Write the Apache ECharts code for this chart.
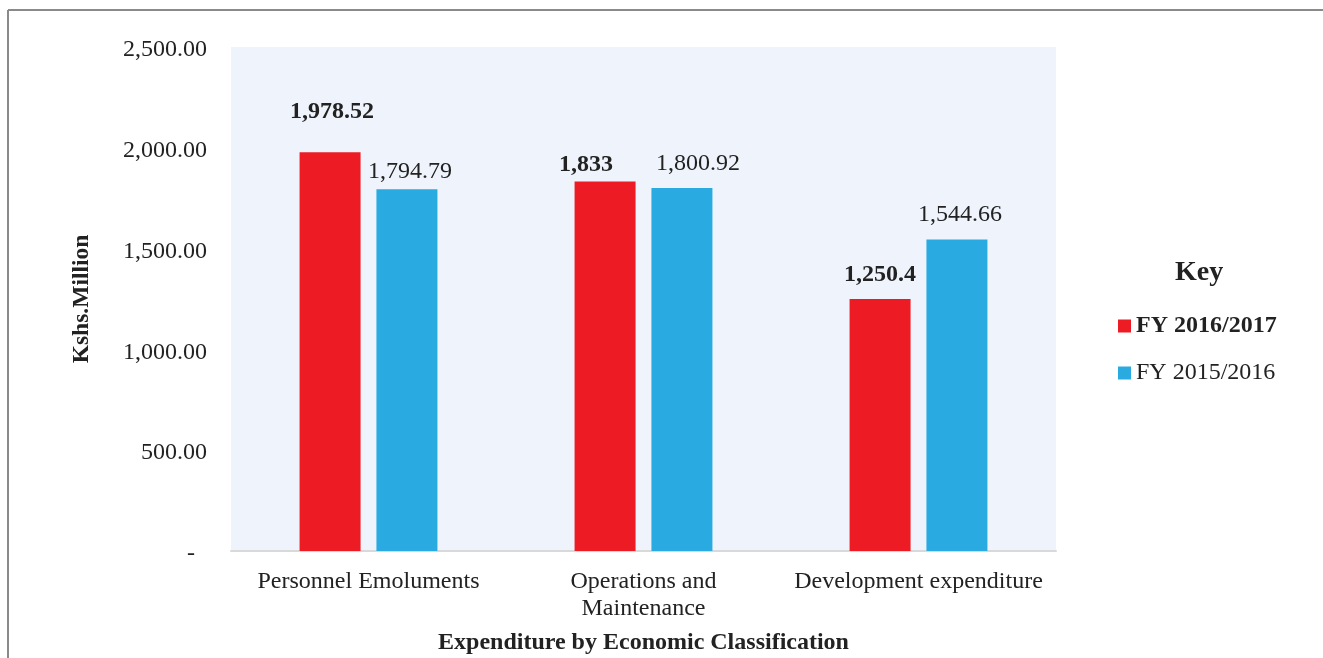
<!DOCTYPE html>
<html>
<head>
<meta charset="utf-8">
<script src="https://cdn.jsdelivr.net/npm/echarts@6/dist/echarts.min.js"></script>
<style>
html,body{margin:0;padding:0;background:#fff;}
#c{width:1323px;height:658px;}
</style>
</head>
<body>
<div id="c"></div>
<script>
const categories = ['Personnel Emoluments', 'Operations and\nMaintenance', 'Development expenditure'];
const seriesNames = ['FY 2016/2017', 'FY 2015/2016'];
const fy2016_2017 = [1978.52, 1833, 1250.4];
const fy2015_2016 = [1794.79, 1800.92, 1544.66];
const labelText2016 = ['1,978.52', '1,833', '1,250.4'];
const labelText2015 = ['1,794.79', '1,800.92', '1,544.66'];
const yTicks = [0, 500, 1000, 1500, 2000, 2500];

const redOffsets = [[2, -23], [-19, 0], [0, -7]];
const blueOffsets = [[3, 0], [16, -7], [3, -8]];

const FONT = '"Liberation Serif", "Times New Roman", serif';
const chart = echarts.init(document.getElementById('c'));

function mk(vals, texts, offs, bold) {
  return vals.map((v, i) => ({
    value: v,
    label: { formatter: texts[i], offset: offs[i], fontWeight: bold ? 'bold' : 'normal' }
  }));
}

chart.setOption({
  backgroundColor: '#ffffff',
  animation: false,
  textStyle: { fontFamily: FONT },
  grid: {
    left: 231, top: 47, width: 825, height: 504,
    outerBoundsMode: 'none', containLabel: false,
    show: true, backgroundColor: '#EFF4FC', borderWidth: 0
  },
  legend: {
    orient: 'vertical',
    left: 1113, top: 309,
    itemWidth: 13, itemHeight: 13, itemGap: 23,
    icon: 'rect',
    textStyle: { fontFamily: FONT, fontSize: 24, color: '#222' },
    data: [
      { name: seriesNames[0], textStyle: { fontWeight: 'bold' } },
      { name: seriesNames[1], textStyle: { fontWeight: 'normal' } }
    ]
  },
  graphic: [
    { type: 'line', shape: { x1: 8, y1: 10, x2: 1323, y2: 10 }, style: { stroke: '#8a8a8a', lineWidth: 2 } },
    { type: 'line', shape: { x1: 8, y1: 10, x2: 8, y2: 658 }, style: { stroke: '#8a8a8a', lineWidth: 2 } },
    { type: 'text', left: 1175, top: 259, style: { text: 'Key', font: 'bold 28px ' + FONT, fill: '#222' } }
  ],
  xAxis: {
    type: 'category',
    data: categories,
    axisLine: { show: true, lineStyle: { color: '#D9D9D9', width: 2 } },
    axisTick: { show: false },
    axisLabel: { fontFamily: FONT, fontSize: 24, color: '#222', margin: 17, lineHeight: 27, interval: 0 },
    name: 'Expenditure by Economic Classification',
    nameLocation: 'middle',
    nameGap: 80,
    nameTextStyle: { fontFamily: FONT, fontSize: 24, fontWeight: 'bold', color: '#222' }
  },
  yAxis: {
    type: 'value',
    min: yTicks[0], max: yTicks[yTicks.length - 1], interval: 500,
    axisLine: { show: false },
    axisTick: { show: false },
    splitLine: { show: false },
    axisLabel: {
      fontFamily: FONT, fontSize: 24, color: '#222', margin: 24,
      verticalAlign: 'top', lineHeight: 6,
      formatter: v => v === 0 ? '-  ' : v.toLocaleString('en-US', { minimumFractionDigits: 2, maximumFractionDigits: 2 })
    },
    name: 'Kshs.Million',
    nameLocation: 'middle',
    nameGap: 137,
    nameTextStyle: { fontFamily: FONT, fontSize: 23.5, fontWeight: 'bold', color: '#222' }
  },
  series: [
    {
      name: seriesNames[0], type: 'bar', barWidth: 61, barGap: '26%',
      itemStyle: { color: '#ED1C24' },
      label: { show: true, position: 'top', fontFamily: FONT, fontSize: 24, color: '#222' },
      data: mk(fy2016_2017, labelText2016, redOffsets, true)
    },
    {
      name: seriesNames[1], type: 'bar', barWidth: 61,
      itemStyle: { color: '#29ABE2' },
      label: { show: true, position: 'top', fontFamily: FONT, fontSize: 24, color: '#222' },
      data: mk(fy2015_2016, labelText2015, blueOffsets, false)
    }
  ]
});
</script>
</body>
</html>
